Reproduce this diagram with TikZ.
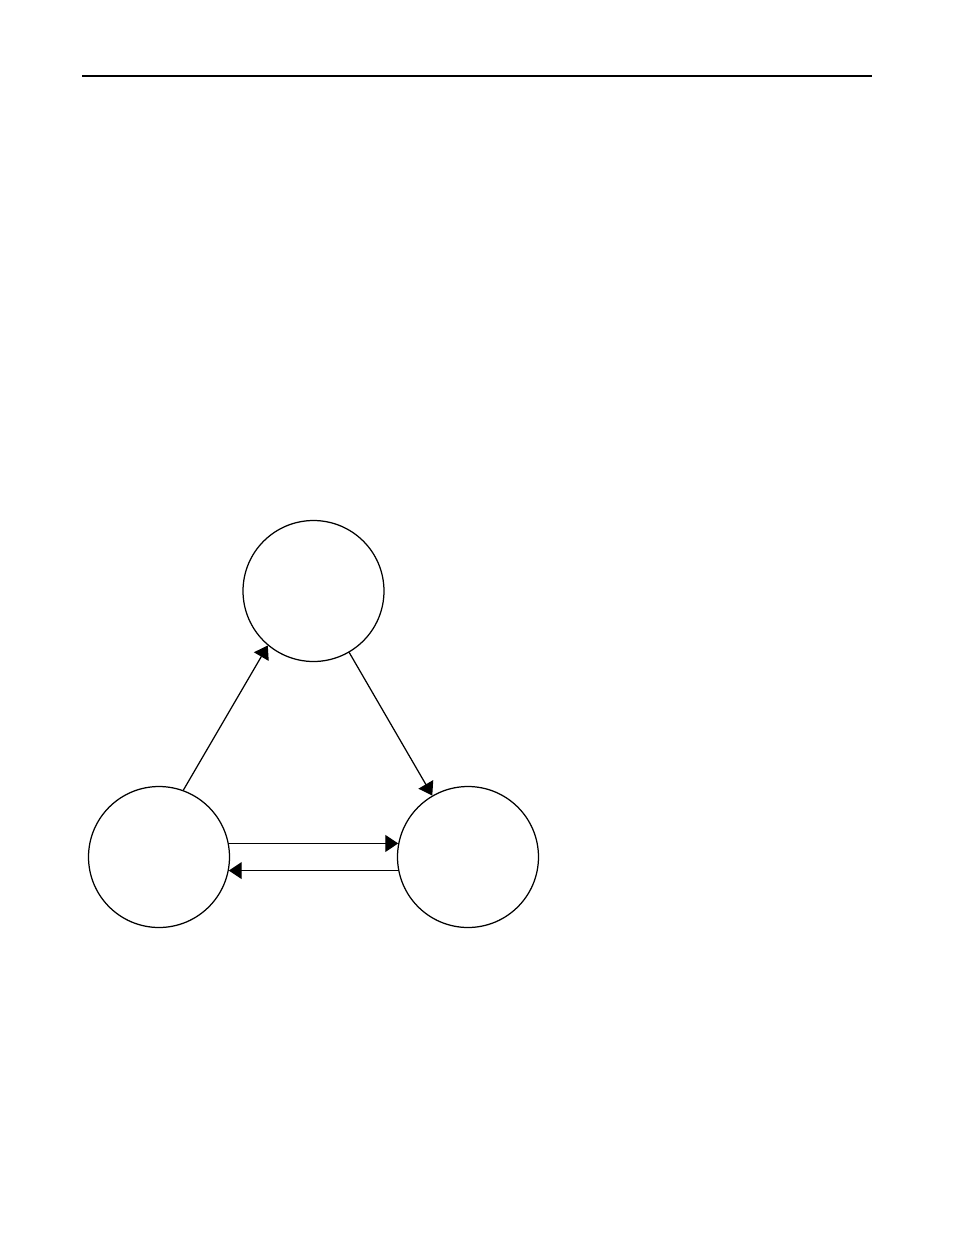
\documentclass[tikz,border=0pt]{standalone}
\usepackage{tikz}
\usetikzlibrary{shapes.geometric}
\usetikzlibrary{arrows.meta}

\tikzset{
    state/.style = {draw, circle, line width = 0.8pt, minimum size = 3.19cm, inner sep = 0pt},
    link/.style  = {line width = 0.8pt, -{Triangle[length = 8.3pt, width = 10.9pt]}}
}

\begin{document}
\begin{tikzpicture}[x = 0.02263cm, y = -0.02263cm]
        \useasboundingbox (0, 0) rectangle (954, 1235);

        \draw[line width = 0.9pt] (82, 76) -- (872, 76);

        \node[state] (top) at (313.5, 591) {};
        \node[state] (lft) at (159, 857) {};
        \node[state] (rgt) at (468, 857) {};

        \draw[link] (lft.70) -- (top.230);
        \draw[link] (top) -- (rgt);
        \draw[link] (lft.11) -- (rgt.169);
        \draw[link] (rgt.191) -- (lft.349);
\end{tikzpicture}
\end{document}
